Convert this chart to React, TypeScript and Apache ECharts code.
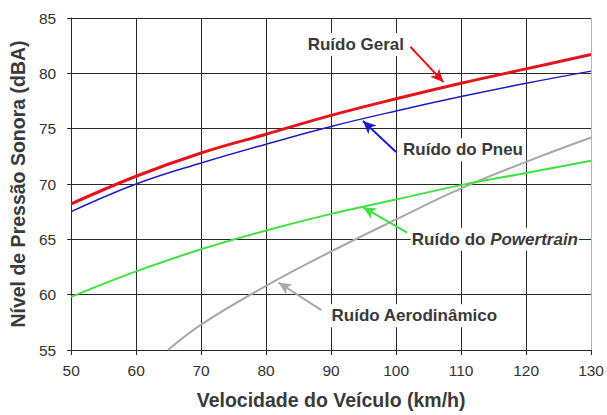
import React, { useEffect, useRef } from "react";
import * as echarts from "echarts";

// Vehicle speed (km/h)
const speeds = [50, 60, 70, 80, 90, 100, 110, 120, 130];
// Sound pressure levels (dBA)
const geral = [68.2, 70.7, 72.8, 74.5, 76.2, 77.7, 79.1, 80.4, 81.7];
const pneu = [67.5, 70.0, 71.9, 73.6, 75.2, 76.6, 77.9, 79.1, 80.2];
const powertrain = [59.8, 62.1, 64.1, 65.8, 67.3, 68.6, 69.9, 71.0, 72.1];
const aeroSpeeds = [64.9, 70, 80, 90, 100, 110, 120, 130];
const aero = [55.0, 57.3, 60.8, 63.9, 66.8, 69.6, 72.0, 74.2];

const seriesNames = ["Ruído Aerodinâmico", "Ruído do Powertrain", "Ruído do Pneu", "Ruído Geral"];
const seriesColors = ["#a9a9a9", "#3fe23f", "#1c1cc8", "#e5141c"];
const seriesWidths = [2, 2, 1.5, 3];

// annotation anchors in data coordinates
const labelPos = [
  [102.8, 58.1],
  [115.2, 65.0],
  [110.3, 73.1],
  [93.8, 82.6],
];
const arrowFrom = [
  [88.5, 58.6],
  [101.7, 65.6],
  [100.0, 72.9],
  [102.2, 82.4],
];
const arrowTo = [
  [81.9, 61.1],
  [94.9, 67.9],
  [94.9, 75.7],
  [107.3, 79.2],
];

const FONT = '"Liberation Sans", Arial, Helvetica, sans-serif';

export default function App() {
  const ref = useRef<HTMLDivElement>(null);
  useEffect(() => {
    if (!ref.current) return;
    const chart = echarts.init(ref.current, null, { renderer: "svg" });
    const toPairs = (xs: number[], ys: number[]) => xs.map((x, i) => [x, ys[i]]);
    const datasets = [
      toPairs(aeroSpeeds, aero),
      toPairs(speeds, powertrain),
      toPairs(speeds, pneu),
      toPairs(speeds, geral),
    ];
    const xLineColors = speeds.map((_, i) => (i === speeds.length - 1 ? "#b5b5b5" : "#2a2a2a"));
    chart.setOption({
      animation: false,
      backgroundColor: "#ffffff",
      grid: { left: 69, right: 14, top: 18, bottom: 62 },
      xAxis: {
        type: "value",
        min: 50,
        max: 130,
        interval: 10,
        name: "Velocidade do Veículo (km/h)",
        nameLocation: "middle",
        nameGap: 40,
        nameTextStyle: { fontFamily: FONT, fontWeight: "bold", fontSize: 19.5, color: "#3a3a3a" },
        axisLine: { show: true, lineStyle: { color: "#2a2a2a", width: 1 } },
        axisTick: { show: true, length: 5, lineStyle: { color: "#2a2a2a" } },
        axisLabel: { fontFamily: FONT, fontSize: 15.5, color: "#333", margin: 12 },
        splitLine: { show: true, lineStyle: { color: xLineColors, width: 1 } },
      },
      yAxis: {
        type: "value",
        min: 55,
        max: 85,
        interval: 5,
        name: "Nível de Pressão Sonora (dBA)",
        nameLocation: "middle",
        nameGap: 42,
        nameTextStyle: { fontFamily: FONT, fontWeight: "bold", fontSize: 19.5, color: "#3a3a3a" },
        axisLine: { show: true, lineStyle: { color: "#2a2a2a", width: 1 } },
        axisTick: { show: true, length: 4, lineStyle: { color: "#2a2a2a" } },
        axisLabel: { fontFamily: FONT, fontSize: 15.5, color: "#333", margin: 15 },
        splitLine: { show: true, lineStyle: { color: "#2a2a2a", width: 1 } },
      },
      series: datasets.map((d, i) => ({
        name: seriesNames[i],
        type: "line",
        data: d,
        smooth: 0.4,
        showSymbol: false,
        symbol: "none",
        lineStyle: { color: seriesColors[i], width: seriesWidths[i] },
        z: 3 + i,
        markLine: {
          silent: true,
          symbol: ["none", "arrow"],
          symbolSize: [9, 13],
          label: { show: false },
          lineStyle: { color: seriesColors[i], width: 2, type: "solid" },
          data: [[{ coord: arrowFrom[i] }, { coord: arrowTo[i] }]],
        },
      })),
    });

    const graphics = labelPos.map((p, i) => {
      const px = chart.convertToPixel({ gridIndex: 0 }, p) as number[];
      const base = {
        type: "text",
        x: px[0],
        y: px[1],
        z: 100,
        silent: true,
      };
      if (i === 1) {
        return {
          ...base,
          style: {
            text: "{n|Ruído do }{i|Powertrain}",
            align: "center",
            verticalAlign: "middle",
            backgroundColor: "#ffffff",
            padding: [3, 1],
            rich: {
              n: { fontFamily: FONT, fontWeight: "bold", fontSize: 17, fill: "#3a3a3a" },
              i: { fontFamily: FONT, fontWeight: "bold", fontStyle: "italic", fontSize: 17, fill: "#3a3a3a" },
            },
          },
        };
      }
      return {
        ...base,
        style: {
          text: seriesNames[i],
          fontFamily: FONT,
          fontWeight: "bold",
          fontSize: 17,
          fill: "#3a3a3a",
          align: "center",
          verticalAlign: "middle",
          backgroundColor: "#ffffff",
          padding: [3, 1],
        },
      };
    });
    chart.setOption({ graphic: graphics });

    return () => chart.dispose();
  }, []);
  return (
    <div
      ref={ref}
      style={{ position: "absolute", left: 0, top: 0, width: 607, height: 415 }}
    />
  );
}
